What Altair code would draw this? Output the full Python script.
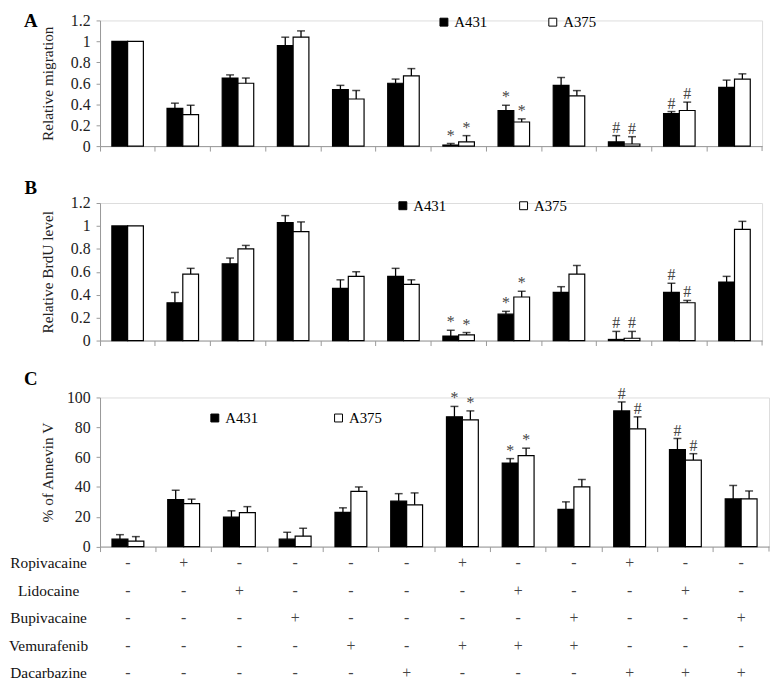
import altair as alt
import pandas as pd

# ---------------- data ----------------
groups = ["G1", "G2", "G3", "G4", "G5", "G6", "G7", "G8", "G9", "G10", "G11", "G12"]
series = ["A431", "A375"]

# Panel A: relative migration
migr_a431 = [1.00, 0.36, 0.65, 0.96, 0.54, 0.60, 0.01, 0.34, 0.58, 0.04, 0.31, 0.56]
migr_a431_err = [0, 0.05, 0.03, 0.08, 0.04, 0.04, 0.015, 0.05, 0.075, 0.06, 0.02, 0.07]
migr_a375 = [1.00, 0.30, 0.60, 1.04, 0.45, 0.67, 0.04, 0.23, 0.48, 0.02, 0.34, 0.64]
migr_a375_err = [0, 0.09, 0.05, 0.06, 0.08, 0.07, 0.06, 0.03, 0.05, 0.07, 0.08, 0.05]

# Panel B: relative BrdU level
brdu_a431 = [1.00, 0.33, 0.67, 1.03, 0.455, 0.56, 0.04, 0.23, 0.42, 0.01, 0.42, 0.51]
brdu_a431_err = [0, 0.09, 0.05, 0.06, 0.075, 0.07, 0.05, 0.025, 0.05, 0.07, 0.08, 0.05]
brdu_a375 = [1.00, 0.58, 0.80, 0.95, 0.56, 0.49, 0.05, 0.38, 0.58, 0.02, 0.33, 0.97]
brdu_a375_err = [0, 0.05, 0.03, 0.085, 0.04, 0.04, 0.02, 0.05, 0.075, 0.06, 0.02, 0.07]

# Panel C: % of Annexin V
anx_a431 = [5, 31.5, 19.8, 5, 23, 30.5, 87, 56, 25, 91, 65, 32]
anx_a431_err = [3, 6.3, 4.2, 4.6, 3, 5, 7, 3, 5, 6, 7.5, 9]
anx_a375 = [3.7, 28.8, 22.8, 7, 37, 28, 85, 61, 40, 79, 58, 32]
anx_a375_err = [3, 3, 4, 5.3, 3, 8, 6, 5, 5, 8, 4.3, 5.3]

# significance marks (same for both cell lines)
sig_marks = ["", "", "", "", "", "", "*", "*", "", "#", "#", ""]

# treatment table
drugs = ["Ropivacaine", "Lidocaine", "Bupivacaine", "Vemurafenib", "Dacarbazine"]
ropivacaine = ["-", "+", "-", "-", "-", "-", "+", "-", "-", "+", "-", "-"]
lidocaine = ["-", "-", "+", "-", "-", "-", "-", "+", "-", "-", "+", "-"]
bupivacaine = ["-", "-", "-", "+", "-", "-", "-", "-", "+", "-", "-", "+"]
vemurafenib = ["-", "-", "-", "-", "+", "-", "+", "+", "+", "-", "-", "-"]
dacarbazine = ["-", "-", "-", "-", "-", "+", "-", "-", "-", "+", "+", "+"]

FONT = "Liberation Serif"


def xenc():
    return alt.X("group:N", sort=groups,
                 scale=alt.Scale(paddingInner=0, paddingOuter=0),
                 axis=alt.Axis(title=None, labels=False, bandPosition=0, tickSize=5,
                               domainColor="#999", tickColor="#999", grid=False))


def panel(v1, e1, v2, e2, ytitle, ydomain, yvalues, width, height,
          letter, letter_y, lx, ly, colpad, tpad):
    rows = []
    for i, g in enumerate(groups):
        for s, v, e in (("A431", v1[i], e1[i]), ("A375", v2[i], e2[i])):
            rows.append(dict(group=g, series=s, value=v, err=e, upper=v + e,
                             mark=sig_marks[i]))
    df = pd.DataFrame(rows)

    xoff = alt.XOffset("series:N", sort=series,
                       scale=alt.Scale(domain=series, paddingInner=0, paddingOuter=0.75))

    def ych(field):
        return alt.Y(field, type="quantitative",
                     scale=alt.Scale(domain=ydomain, nice=False),
                     axis=alt.Axis(values=yvalues, labelExpr="'' + datum.value",
                                   title=ytitle, grid=False,
                                   tickSize=4, labelPadding=6, domainColor="#999",
                                   tickColor="#999", labelFont=FONT, labelFontSize=16,
                                   labelColor="#222", titleFont=FONT, titleFontSize=15.5,
                                   titleFontWeight="normal", titleColor="#222",
                                   titlePadding=tpad))

    base = alt.Chart(df)
    bars = base.mark_bar(stroke="black", strokeWidth=1.2).encode(
        x=xenc(), xOffset=xoff, y=ych("value"),
        fill=alt.Fill("series:N", sort=series,
                      scale=alt.Scale(domain=series, range=["black", "white"]),
                      legend=alt.Legend(orient="none", legendX=lx, legendY=ly,
                                        direction="horizontal", title=None,
                                        symbolType="square", symbolSize=64,
                                        symbolStrokeColor="black", symbolStrokeWidth=1,
                                        labelFont=FONT, labelFontSize=15,
                                        labelColor="black", columnPadding=colpad,
                                        labelOffset=3, padding=0)))
    errs = base.transform_filter("datum.err > 0")
    rule = errs.mark_rule(color="black", strokeWidth=1.3).encode(
        x=xenc(), xOffset=xoff, y=ych("value"), y2="upper:Q")
    caps = errs.mark_tick(color="black", size=8, thickness=1.5, orient="horizontal").encode(
        x=xenc(), xOffset=xoff, y=ych("upper"))
    stars = base.transform_filter("datum.mark != ''").mark_text(
        font=FONT, fontSize=16, color="#444", baseline="alphabetic", dy=-3).encode(
        x=xenc(), xOffset=xoff, y=ych("upper"), text="mark:N")
    let = alt.Chart(pd.DataFrame({"t": [letter]})).mark_text(
        font=FONT, fontSize=19, fontWeight="bold", align="center", baseline="top",
        color="black").encode(x=alt.value(-70), y=alt.value(letter_y), text="t:N")
    # closing tick at the right end of the x axis
    end_tick = alt.Chart(pd.DataFrame({"t": [letter]})).mark_rule(
        color="#999", strokeWidth=1).encode(
        x=alt.value(width), y=alt.value(height), y2=alt.value(height + 5))
    return alt.layer(bars, rule, caps, stars, let, end_tick).properties(
        width=width, height=height)


pA = panel(migr_a431, migr_a431_err, migr_a375, migr_a375_err, "Relative migration",
           [0, 1.2], [0, 0.2, 0.4, 0.6, 0.8, 1, 1.2], 669, 127, "A", -8, 340, -6, 58, 15)
pB = panel(brdu_a431, brdu_a431_err, brdu_a375, brdu_a375_err, "Relative BrdU level",
           [0, 1.2], [0, 0.2, 0.4, 0.6, 0.8, 1, 1.2], 669, 139, "B", -24.5, 298.5, -5, 70, 15)

C_H = 150.7
pC_bars = panel(anx_a431, anx_a431_err, anx_a375, anx_a375_err, "% of Annevin V",
                [0, 100], [0, 20, 40, 60, 80, 100], 676, C_H, "C", -28, 108.5, 13, 73, 11)

# treatment table under panel C, with its own row scale
trows = []
for drug, signs in zip(drugs, [ropivacaine, lidocaine, bupivacaine, vemurafenib, dacarbazine]):
    for g, s in zip(groups, signs):
        trows.append(dict(group=g, drug=drug, sign=s))
tdf = pd.DataFrame(trows)
row_y = alt.Y("drug:N", sort=drugs,
              scale=alt.Scale(type="point", domain=drugs, padding=0,
                              range=[C_H + 17, C_H + 128]),
              axis=None)
signs_layer = alt.Chart(tdf).mark_text(font=FONT, fontSize=16, color="#444").encode(
    x=xenc(), y=row_y, text="sign:N")
labels_layer = alt.Chart(pd.DataFrame({"drug": drugs})).mark_text(
    font=FONT, fontSize=15.5, color="#111", align="center").encode(
    x=alt.value(-52), y=row_y, text="drug:N")
table = alt.layer(signs_layer, labels_layer)

pC = alt.layer(pC_bars, table).resolve_scale(y="independent").properties(
    width=676, height=C_H)

chart = alt.vconcat(pA, pB, pC, spacing=57.5, bounds="flush").resolve_scale(
    x="independent", y="independent", fill="independent", xOffset="independent"
).properties(padding=0).configure_view(stroke=None).configure(
    background="white", font=FONT)

chart.save("out.html", embed_options={"renderer": "svg", "actions": False})
